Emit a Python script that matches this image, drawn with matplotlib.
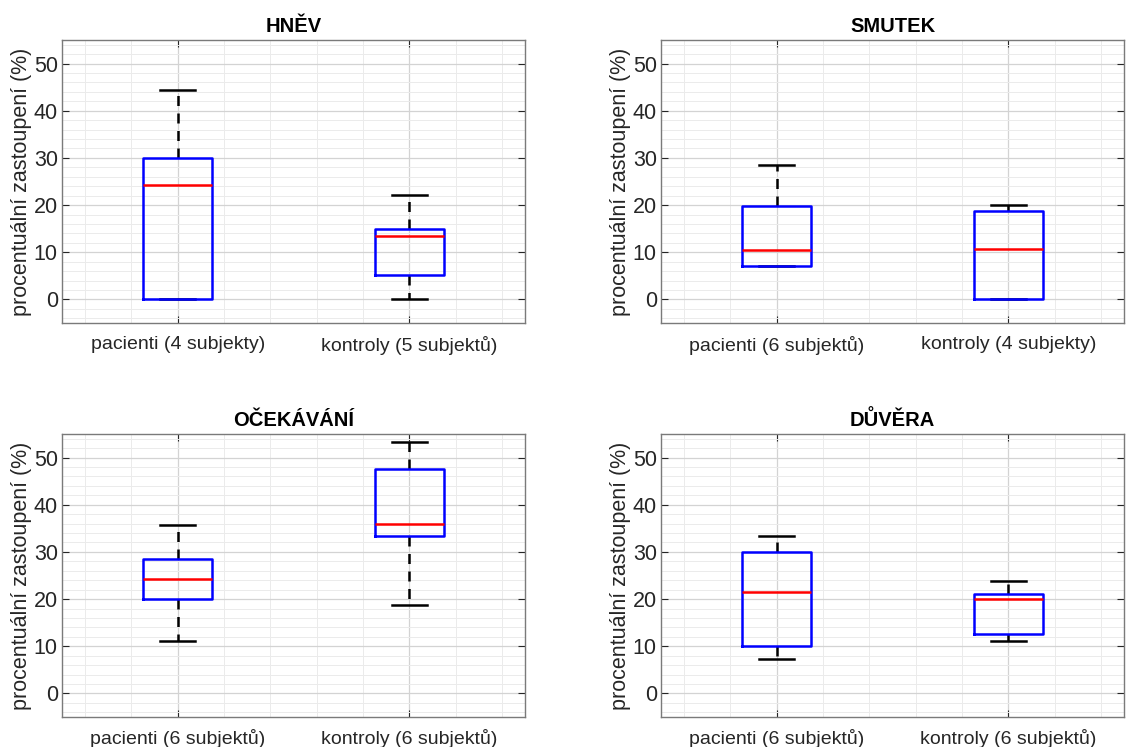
import matplotlib.pyplot as plt
from matplotlib.ticker import MultipleLocator

plt.rcParams['font.family'] = ['Liberation Sans', 'DejaVu Sans']

# box statistics per emotion: [lower whisker, Q1, median, Q3, upper whisker]
titles = ['HNĚV', 'SMUTEK', 'OČEKÁVÁNÍ', 'DŮVĚRA']

hnev_pac = [0.0, 0.0, 24.3, 30.0, 44.5]
hnev_kon = [0.0, 5.2, 13.4, 14.9, 22.2]
smutek_pac = [7.1, 7.1, 10.5, 19.9, 28.6]
smutek_kon = [0.0, 0.0, 10.7, 18.7, 20.0]
ocek_pac = [11.1, 20.0, 24.3, 28.6, 35.7]
ocek_kon = [18.8, 33.4, 35.9, 47.5, 53.3]
duvera_pac = [7.2, 10.0, 21.4, 30.0, 33.4]
duvera_kon = [11.1, 12.5, 20.0, 21.0, 23.8]

labels = [
    ['pacienti (4 subjekty)', 'kontroly (5 subjektů)'],
    ['pacienti (6 subjektů)', 'kontroly (4 subjekty)'],
    ['pacienti (6 subjektů)', 'kontroly (6 subjektů)'],
    ['pacienti (6 subjektů)', 'kontroly (6 subjektů)'],
]
series = [
    [hnev_pac, hnev_kon],
    [smutek_pac, smutek_kon],
    [ocek_pac, ocek_kon],
    [duvera_pac, duvera_kon],
]

fig = plt.figure(figsize=(11.33, 7.47), dpi=100)

W, H = 1133, 747
ax_w, ax_h = 463, 283
lefts = [62, 661]
tops = [40, 434]

for k in range(4):
    row, col = divmod(k, 2)
    ax = fig.add_axes([lefts[col] / W, 1 - (tops[row] + ax_h) / H, ax_w / W, ax_h / H])

    stats = []
    for s, lab in zip(series[k], labels[k]):
        stats.append({'whislo': s[0], 'q1': s[1], 'med': s[2], 'q3': s[3],
                      'whishi': s[4], 'fliers': [], 'label': lab})

    # box drawn over the caps so zero-length whiskers stay hidden
    ax.bxp(stats, positions=[1, 2], widths=0.3, showfliers=False,
           boxprops=dict(color='#0000ff', linewidth=1.8, zorder=4),
           medianprops=dict(color='#ff0000', linewidth=1.8, zorder=5),
           whiskerprops=dict(color='black', linewidth=1.8, linestyle=(0, (4, 3)), zorder=2),
           capprops=dict(color='black', linewidth=1.8, zorder=2),
           capwidths=0.15)

    ax.set_xlim(0.5, 2.5)
    ax.set_ylim(-5, 55)
    ax.set_yticks([0, 10, 20, 30, 40, 50])
    ax.xaxis.set_minor_locator(MultipleLocator(0.2))
    ax.yaxis.set_minor_locator(MultipleLocator(2))
    ax.grid(which='major', color='#d3d3d3', linewidth=0.9)
    ax.grid(which='minor', color='#ebebeb', linewidth=0.7)
    ax.set_axisbelow(True)

    ax.tick_params(which='both', direction='in', top=True, right=True,
                   colors='#262626', length=5)
    ax.tick_params(axis='y', labelsize=15.5, pad=3)
    ax.tick_params(axis='x', labelsize=14, pad=9)
    ax.tick_params(which='minor', length=0)
    for sp in ax.spines.values():
        sp.set_color('#7a7a7a')
        sp.set_linewidth(1.0)

    ax.set_ylabel('procentuální zastoupení (%)', fontsize=15.5, color='#262626', labelpad=1)
    ax.set_title(titles[k], fontsize=14.5, fontweight='bold', pad=6)

fig.savefig('out.png', dpi=100)
